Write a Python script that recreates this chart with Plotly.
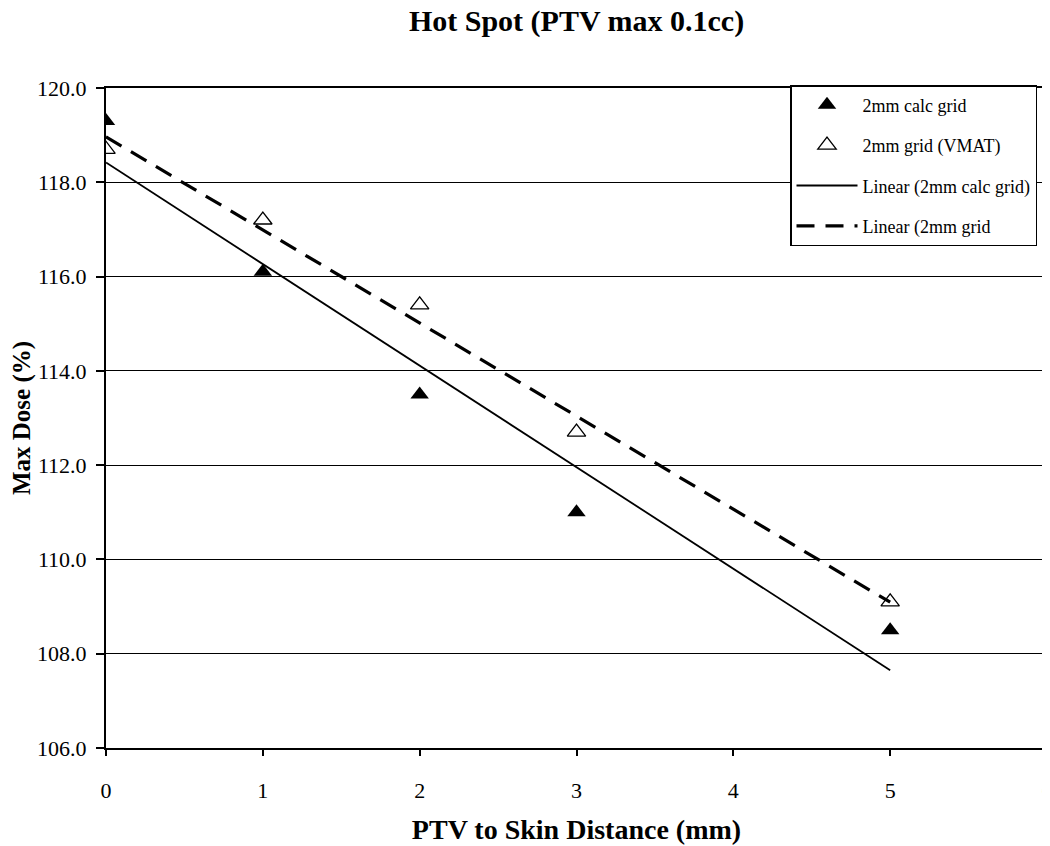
import numpy as np
import plotly.graph_objects as go

distance_mm = [0, 1, 2, 3, 5]
calc_grid_2mm = [119.3, 116.1, 113.5, 111.0, 108.5]
vmat_grid_2mm = [118.7, 117.2, 115.4, 112.7, 109.1]

series_names = ["2mm calc grid", "2mm grid (VMAT)",
                "Linear (2mm calc grid)", "Linear (2mm grid"]
x_ticks = [0, 1, 2, 3, 4, 5, 6]
y_ticks = [106.0, 108.0, 110.0, 112.0, 114.0, 116.0, 118.0, 120.0]

FONT = "Liberation Serif"

def linear_fit(x, y):
    m, b = np.polyfit(x, y, 1)
    xs = [min(x), max(x)]
    return xs, [m * v + b for v in xs]

fig = go.Figure()
fig.add_trace(go.Scatter(
    x=distance_mm, y=calc_grid_2mm, mode="markers", name=series_names[0],
    legendgroup="a",
    marker=dict(symbol="triangle-up", size=16, color="black"),
))
fig.add_trace(go.Scatter(
    x=distance_mm, y=vmat_grid_2mm, mode="markers", name=series_names[1],
    legendgroup="b",
    marker=dict(symbol="triangle-up-open", size=16, color="black",
                line=dict(width=1.3, color="black")),
))
fx, fy = linear_fit(distance_mm, calc_grid_2mm)
fig.add_trace(go.Scatter(
    x=fx, y=fy, mode="lines", name=series_names[2], legendgroup="c",
    line=dict(color="black", width=1.8),
))
fx, fy = linear_fit(distance_mm, vmat_grid_2mm)
fig.add_trace(go.Scatter(
    x=fx, y=fy, mode="lines", name=series_names[3], legendgroup="d",
    line=dict(color="black", width=3.2, dash="18px,11px"),
))

# page body has an 8px margin, so the figure is 8px smaller and offset
fig.update_layout(
    width=1042, height=838,
    margin=dict(l=98, r=3, t=80, b=98, autoexpand=False),
    paper_bgcolor="white", plot_bgcolor="white",
    font=dict(family=FONT, color="black", size=18),
    title=dict(text="<b>Hot Spot (PTV max 0.1cc)</b>",
               font=dict(family=FONT, size=30, color="black"),
               x=0.5, xref="paper", xanchor="center",
               y=1 - 2 / 838, yref="container", yanchor="top",
               pad=dict(t=0)),
    showlegend=True,
    legend=dict(x=(790 - 106) / 941, xanchor="left",
                y=(748 - 85) / 660, yanchor="top",
                bgcolor="white", bordercolor="black", borderwidth=1.5,
                font=dict(family=FONT, size=18, color="black"),
                tracegroupgap=14, itemwidth=61),
)
fig.update_xaxes(
    range=[0, 6], tickvals=x_ticks, ticktext=[str(t) for t in x_ticks],
    showgrid=False, zeroline=False, automargin=False,
    showline=True, linecolor="black", linewidth=2, mirror=True,
    ticks="outside", ticklen=6, tickcolor="black", tickwidth=1.5,
    tickfont=dict(family=FONT, size=22, color="black"),
    ticklabelstandoff=16, ticklabeloverflow="allow",
    title=dict(text="<b>PTV to Skin Distance (mm)</b>",
               font=dict(family=FONT, size=28, color="black"), standoff=17),
)
fig.update_yaxes(
    range=[106, 120], tickvals=y_ticks,
    ticktext=[f"{t:.1f}" for t in y_ticks],
    showgrid=True, gridcolor="black", gridwidth=1, zeroline=False,
    automargin=False,
    showline=True, linecolor="black", linewidth=2, mirror=True,
    ticks="outside", ticklen=8, tickcolor="black", tickwidth=1.5,
    tickfont=dict(family=FONT, size=22, color="black"),
    ticklabelstandoff=5,
    title=dict(text="<b>Max Dose (%)</b>",
               font=dict(family=FONT, size=25, color="black"), standoff=25),
)

fig.write_html("out.html")
